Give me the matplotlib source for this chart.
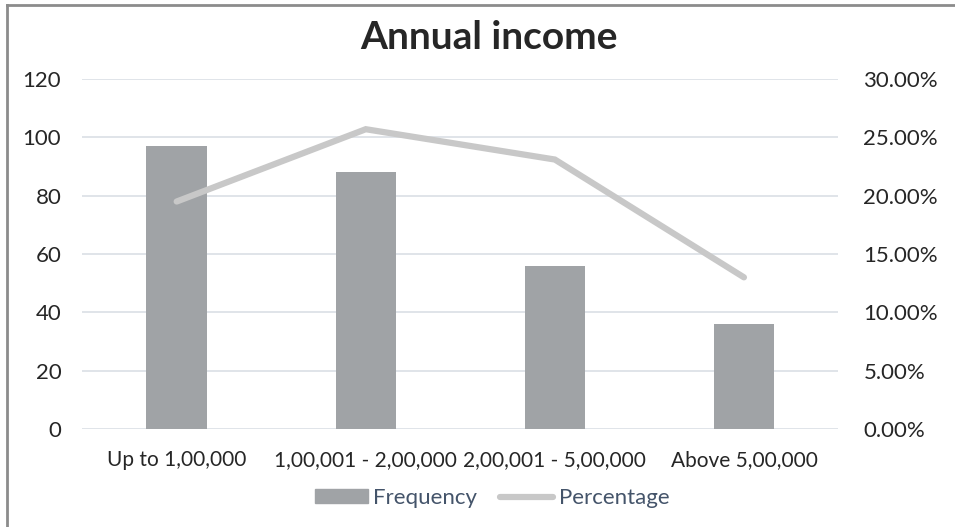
import matplotlib.pyplot as plt
from matplotlib.lines import Line2D
from matplotlib.ticker import PercentFormatter
import numpy as np

plt.rcParams['font.family'] = ['Lato', 'DejaVu Sans']

categories = ['Up to 1,00,000', '1,00,001 - 2,00,000', '2,00,001 - 5,00,000', 'Above 5,00,000']
frequency = [97, 88, 56, 36]
percentage = [19.5, 25.7, 23.1, 13.0]

bar_color = '#A0A3A6'
line_color = '#C8C8C8'
text_color = '#262626'

fig = plt.figure(figsize=(9.55, 5.27), dpi=100)
ax = fig.add_axes([0.086, 0.186, 0.792, 0.664])
ax2 = ax.twinx()

x = np.arange(len(categories))
ax.bar(x, frequency, width=0.32, color=bar_color, zorder=2, label='Frequency')
ax2.plot(x, percentage, color=line_color, lw=4.5, solid_capstyle='round',
         solid_joinstyle='miter', zorder=3, label='Percentage')

ax.set_xlim(-0.5, len(categories) - 0.5)
ax.set_ylim(0, 120)
ax.set_yticks(range(0, 121, 20))
ax2.set_ylim(0, 30)
ax2.set_yticks(np.arange(0, 31, 5))
ax2.yaxis.set_major_formatter(PercentFormatter(decimals=2))

ax.set_xticks(x)
ax.set_xticklabels(categories)
ax.grid(axis='y', color='#DDE2E7', lw=1.3, zorder=0)
for a in (ax, ax2):
    for s in a.spines.values():
        s.set_visible(False)
    a.tick_params(length=0, labelsize=16, colors=text_color)
ax.tick_params(axis='x', labelsize=15, pad=15)
ax.tick_params(axis='y', pad=15)
ax2.tick_params(axis='y', pad=18)
ax2.set_zorder(ax.get_zorder() + 1)
ax2.patch.set_visible(False)

fig.suptitle('Annual income', x=0.512, y=0.962, fontsize=28, fontweight='bold', color=text_color)

handles = [plt.Rectangle((0, 0), 1, 1, color=bar_color),
           Line2D([0], [0], color=line_color, lw=4.5, solid_capstyle='round')]
leg = fig.legend(handles, ['Frequency', 'Percentage'], loc='center', bbox_to_anchor=(0.515, 0.055),
                 ncol=2, frameon=False, fontsize=16, handlelength=2.4, handleheight=0.55,
                 handletextpad=0.25, columnspacing=1.0)
for t in leg.get_texts():
    t.set_color('#44546A')

# chart border (only top and left visible in the crop)
fig.add_artist(Line2D([0.0075, 1.0], [0.991, 0.991], color='#8C8C8C', lw=2))
fig.add_artist(Line2D([0.0075, 0.0075], [0.0, 0.991], color='#8C8C8C', lw=2))

fig.savefig('out.png', dpi=100)
